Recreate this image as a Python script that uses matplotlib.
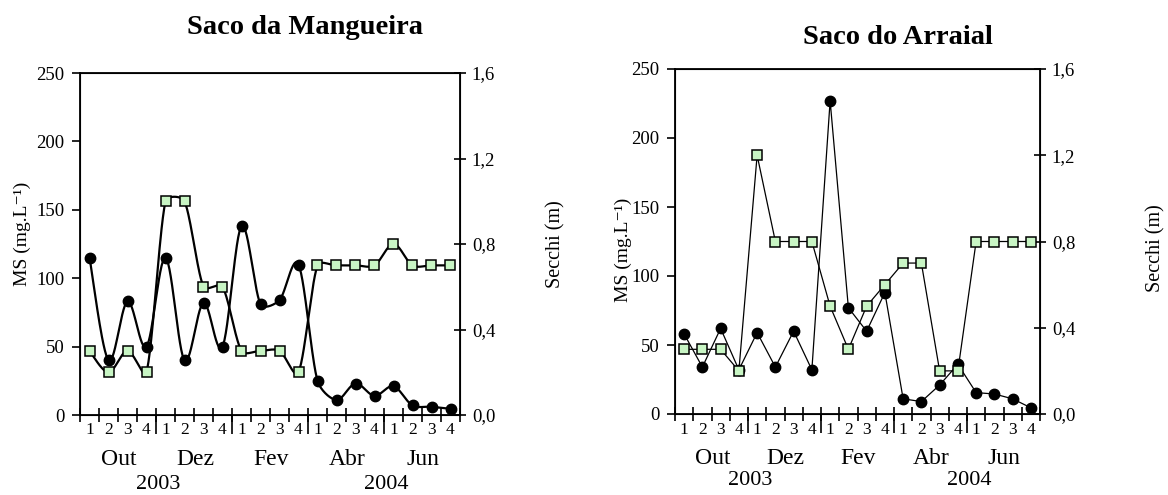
import numpy as np
import matplotlib
matplotlib.use('Agg')
import matplotlib.pyplot as plt
from matplotlib.ticker import FuncFormatter, FixedLocator

plt.rcParams['font.family'] = ['Liberation Serif', 'DejaVu Serif']

weeks = ['1', '2', '3', '4'] * 5
months = ['Out', 'Dez', 'Fev', 'Abr', 'Jun']
years = ['2003', '2004']

# Saco da Mangueira
ms_mang = [115, 40, 83, 50, 115, 40, 82, 50, 138, 81, 84, 110,
           25, 11, 23, 14, 21, 7, 6, 4.5]
secchi_mang = [0.30, 0.20, 0.30, 0.20, 1.0, 1.0, 0.60, 0.60, 0.30, 0.30, 0.30, 0.20,
               0.70, 0.70, 0.70, 0.70, 0.80, 0.70, 0.70, 0.70]

# Saco do Arraial
ms_arr = [58, 34, 62, 32, 59, 34, 60, 32, 227, 77, 60, 88,
          11, 9, 21, 36, 15.5, 14.5, 11, 4.5]
secchi_arr = [0.30, 0.30, 0.30, 0.20, 1.2, 0.8, 0.8, 0.8, 0.5, 0.30, 0.5, 0.6,
              0.7, 0.7, 0.2, 0.2, 0.8, 0.8, 0.8, 0.8]

GREEN = '#c8f5c4'


def smooth_curve(x, y, sx, sy, n=30):
    # spreadsheet-style smoothed line: catmull-rom bezier handles (1/6 of the
    # neighbour chord), clamped when the segment itself is short
    p = np.column_stack([np.asarray(x, float) * sx, np.asarray(y, float) * sy])
    m = len(p)
    v = np.zeros_like(p)
    for i in range(m):
        v[i] = (p[min(i + 1, m - 1)] - p[max(i - 1, 0)]) / 6
    t = np.linspace(0, 1, n)[:, None]
    out = []
    for i in range(m - 1):
        L = np.hypot(*(p[i + 1] - p[i]))
        a = v[i] * min(1, L / (3 * max(np.hypot(*v[i]), 1e-9)))
        b = v[i + 1] * min(1, L / (3 * max(np.hypot(*v[i + 1]), 1e-9)))
        c1 = p[i] + a
        c2 = p[i + 1] - b
        out.append((1 - t) ** 3 * p[i] + 3 * (1 - t) ** 2 * t * c1
                   + 3 * (1 - t) * t ** 2 * c2 + t ** 3 * p[i + 1])
    s = np.vstack(out)
    return s[:, 0] / sx, s[:, 1] / sy


def panel(ax, ms, secchi, smooth, lw, off):
    x = np.arange(len(ms))
    ax2 = ax.twinx()
    if smooth:
        step = 19.0
        h = 342.0
        ax.plot(*smooth_curve(x, ms, step, h / 250), color='black', lw=lw)
        ax2.plot(*smooth_curve(x, secchi, step, h / 1.6), color='black', lw=lw)
    else:
        ax.plot(x, ms, color='black', lw=lw)
        ax2.plot(x, secchi, color='black', lw=lw)
    ax.plot(x, ms, 'o', color='black', ms=7.5)
    ax2.plot(x, secchi, 's', mfc=GREEN, mec='black', mew=1.1, ms=6.5)

    ax.set_xlim(-0.5, 19.5)
    ax.set_ylim(0, 250)
    ax2.set_ylim(0, 1.6)
    ax.set_yticks([0, 50, 100, 150, 200, 250])
    ax2.set_yticks([0, 0.4, 0.8, 1.2, 1.6])
    ax2.yaxis.set_major_formatter(FuncFormatter(lambda v, p: f'{v:.1f}'.replace('.', ',')))
    ax.tick_params(axis='y', direction='out', length=6, width=1.2, labelsize=13.5, pad=5)
    ax2.tick_params(axis='y', direction='inout', length=9, width=1.2, labelsize=13.5, pad=4)

    bounds = np.arange(-0.5, 20, 1)
    ax.xaxis.remove_overlapping_locs = False
    ax.xaxis.set_minor_locator(FixedLocator(bounds))
    ax.xaxis.set_major_locator(FixedLocator([3.5, 7.5, 11.5, 15.5]))
    ax.set_xticklabels([])
    ax.tick_params(axis='x', which='minor', direction='inout', length=10, width=1.2)
    ax.tick_params(axis='x', which='major', direction='out', length=14, width=1.2)

    for sp in ax.spines.values():
        sp.set_linewidth(1.3)

    for i, w in enumerate(weeks):
        ax.annotate(w, (i, 0), xycoords=('data', 'axes fraction'), xytext=(0, -off[0]),
                    textcoords='offset points', ha='center', va='center', fontsize=12.5)
    for k, m in enumerate(months):
        ax.annotate(m, (1.5 + 4 * k + 0.05, 0), xycoords=('data', 'axes fraction'),
                    xytext=(0, -off[1]), textcoords='offset points',
                    ha='center', va='center', fontsize=17)
    for xp, yr in zip([3.6, 15.6], years):
        ax.annotate(yr, (xp, 0), xycoords=('data', 'axes fraction'), xytext=(0, -off[2]),
                    textcoords='offset points', ha='center', va='center', fontsize=16)
    return ax2


fig = plt.figure(figsize=(11.68, 4.95), dpi=100)
ax_l = fig.add_axes([80 / 1168, 80 / 495, 380 / 1168, 342 / 495])
ax_r = fig.add_axes([675 / 1168, 81 / 495, 365 / 1168, 345 / 495])

ax2_l = panel(ax_l, ms_mang, secchi_mang, True, 1.6, (11, 32, 50))
ax2_r = panel(ax_r, ms_arr, secchi_arr, False, 0.9, (11.5, 32, 48))

for ax, ax2, lx, ly, rx, ry in [(ax_l, ax2_l, -0.13, 0.53, 1.227, 0.5),
                                (ax_r, ax2_r, -0.118, 0.475, 1.29, 0.48)]:
    ax.set_ylabel('MS (mg.L⁻¹)', fontsize=14)
    ax.yaxis.set_label_coords(lx, ly)
    ax2.set_ylabel('Secchi (m)', fontsize=14.5, rotation=90)
    ax2.yaxis.set_label_coords(rx, ry)

fig.text(305 / 1168, 1 - 27 / 495, 'Saco da Mangueira', ha='center', va='center',
         fontsize=20.5, fontweight='bold')
fig.text(898 / 1168, 1 - 38 / 495, 'Saco do Arraial', ha='center', va='center',
         fontsize=20.5, fontweight='bold')

fig.savefig('out.png', dpi=100)
